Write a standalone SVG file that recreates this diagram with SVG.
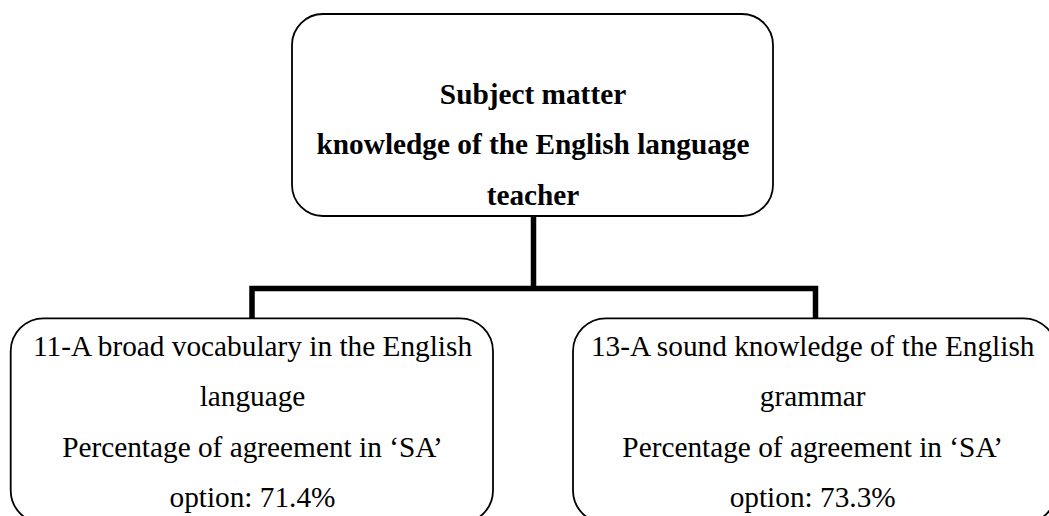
<svg xmlns="http://www.w3.org/2000/svg" width="1049" height="516" viewBox="0 0 1049 516">
  <style>
    .box { fill: #ffffff; stroke: #000000; stroke-width: 1.8; }
    .wire { fill: none; stroke: #000000; stroke-width: 5.5; stroke-linejoin: miter; stroke-linecap: butt; }
    .lbl { font-family: 'Liberation Serif', Tinos, 'Times New Roman', 'DejaVu Serif', serif; font-size: 29.3px; fill: #000000; text-anchor: middle; }
    .bold { font-weight: bold; }
  </style>
  <rect width="1049" height="516" fill="#ffffff"/>

  <!-- tree connectors -->
  <g id="connectors">
    <path class="wire" d="M533.5,215 V288.5"/>
    <path class="wire" d="M252,318 V288.5 H815.5 V318"/>
  </g>

  <!-- root node -->
  <g id="node-root">
    <rect class="box" x="292" y="14" width="481" height="202" rx="31" ry="31"/>
    <text class="lbl bold" x="533" y="103.5">Subject matter</text>
    <text class="lbl bold" x="533" y="154">knowledge of the English language</text>
    <text class="lbl bold" x="533" y="204.5">teacher</text>
  </g>

  <!-- child node: vocabulary -->
  <g id="node-vocabulary">
    <rect class="box" x="10.7" y="318.3" width="482.3" height="205" rx="33" ry="33"/>
    <text class="lbl" x="252.5" y="355.5">11-A broad vocabulary in the English</text>
    <text class="lbl" x="252.5" y="406">language</text>
    <text class="lbl" x="252.5" y="456.5">Percentage of agreement in ‘SA’</text>
    <text class="lbl" x="252.5" y="507">option: 71.4%</text>
  </g>

  <!-- child node: grammar -->
  <g id="node-grammar">
    <rect class="box" x="573" y="318.3" width="483.5" height="205" rx="33" ry="33"/>
    <text class="lbl" x="812.7" y="355.5">13-A sound knowledge of the English</text>
    <text class="lbl" x="812.7" y="406">grammar</text>
    <text class="lbl" x="812.7" y="456.5">Percentage of agreement in ‘SA’</text>
    <text class="lbl" x="812.7" y="507">option: 73.3%</text>
  </g>
</svg>
